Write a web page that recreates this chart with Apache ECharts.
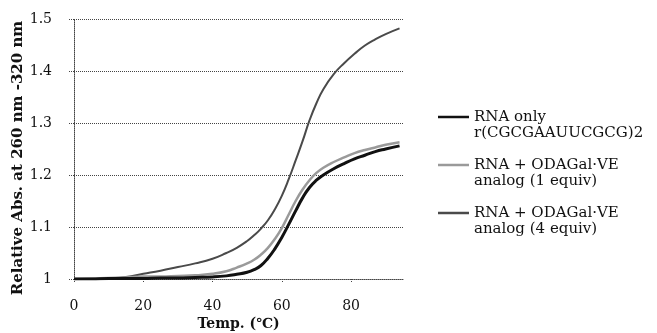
<!DOCTYPE html>
<html>
<head>
<meta charset="utf-8">
<script src="https://cdn.jsdelivr.net/npm/echarts@6/dist/echarts.min.js"></script>
<style>
  html, body { margin: 0; padding: 0; background: #fff; }
  #chart { width: 657px; height: 333px; }
</style>
</head>
<body>
<div id="chart"></div>
<script>
const temps = [0, 5, 10, 15, 20, 25, 30, 35, 40, 44, 47, 50, 52, 54, 56, 58, 60, 62, 64, 66, 68, 70, 72, 75, 78, 81, 84, 87, 90, 94];
const rnaOnly = [1.000, 1.000, 1.001, 1.001, 1.001, 1.002, 1.002, 1.003, 1.004, 1.006, 1.009, 1.013, 1.018, 1.026, 1.040, 1.058, 1.080, 1.105, 1.131, 1.156, 1.176, 1.190, 1.200, 1.212, 1.222, 1.231, 1.238, 1.245, 1.250, 1.256];
const equiv1 = [1.000, 1.001, 1.002, 1.003, 1.005, 1.005, 1.006, 1.007, 1.010, 1.015, 1.022, 1.030, 1.037, 1.047, 1.060, 1.077, 1.098, 1.124, 1.150, 1.172, 1.190, 1.204, 1.214, 1.225, 1.234, 1.242, 1.248, 1.253, 1.258, 1.263];
const equiv4 = [1.000, 1.000, 1.001, 1.004, 1.010, 1.016, 1.023, 1.030, 1.039, 1.050, 1.060, 1.073, 1.084, 1.097, 1.113, 1.134, 1.160, 1.192, 1.228, 1.265, 1.305, 1.338, 1.365, 1.394, 1.415, 1.433, 1.449, 1.461, 1.471, 1.482];
const seriesNames = ['RNA only\nr(CGCGAAUUCGCG)2', 'RNA + ODAGal·VE\nanalog (1 equiv)', 'RNA + ODAGal·VE\nanalog (4 equiv)'];
const yTicks = [1, 1.1, 1.2, 1.3, 1.4, 1.5];

const font = 'DejaVu Serif';
const pair = (vals) => temps.map((t, i) => [t, vals[i]]);

const chart = echarts.init(document.getElementById('chart'));
chart.setOption({
  animation: false,
  grid: { left: 74, right: 254, top: 19, bottom: 54, outerBoundsMode: 'none' },
  legend: {
    orient: 'vertical',
    left: 438,
    top: 93,
    icon: 'rect',
    itemWidth: 31,
    itemHeight: 2.5,
    itemGap: 0,
    padding: 0,
    // leading blank line keeps the stroke level with the first text line
    formatter: (name) => '\n' + name,
    textStyle: { fontFamily: font, fontSize: 15, color: '#111', lineHeight: 16 },
    data: seriesNames
  },
  xAxis: {
    type: 'value',
    min: 0, max: 95, interval: 20,
    name: 'Temp. (℃)',
    nameLocation: 'middle',
    nameMoveOverlap: false,
    nameGap: 38,
    nameTextStyle: { fontFamily: font, fontSize: 14, fontWeight: 'bold', color: '#111' },
    axisLine: { show: true, lineStyle: { color: '#444', type: 'dotted', width: 1 } },
    axisTick: { show: true, length: 4, lineStyle: { color: '#444', type: 'dotted' } },
    axisLabel: { fontFamily: font, fontSize: 14, color: '#111', margin: 20, showMaxLabel: false },
    splitLine: { show: false }
  },
  yAxis: {
    type: 'value',
    min: 1, max: 1.5, interval: 0.1,
    name: 'Relative Abs. at 260 nm -320 nm',
    nameLocation: 'middle',
    nameMoveOverlap: false,
    nameGap: 48,
    nameTextStyle: { fontFamily: font, fontSize: 15, fontWeight: 'bold', color: '#111', padding: [0, 18, 0, 0] },
    axisLine: { show: true, lineStyle: { color: '#444', type: 'dotted', width: 1 } },
    axisTick: { show: true, length: 5, lineStyle: { color: '#444', type: 'dotted' } },
    axisLabel: {
      fontFamily: font, fontSize: 14, color: '#111', margin: 22,
      formatter: (v) => {
        const t = yTicks.find(k => Math.abs(k - v) < 1e-6);
        return t === undefined ? '' : String(t);
      }
    },
    splitLine: { show: true, lineStyle: { color: '#444', type: 'dotted', width: 1 } }
  },
  series: [
    {
      name: seriesNames[0], type: 'line', data: pair(rnaOnly), smooth: true,
      showSymbol: false, symbol: 'none', z: 4,
      lineStyle: { color: '#111', width: 3 }, itemStyle: { color: '#111' }
    },
    {
      name: seriesNames[1], type: 'line', data: pair(equiv1), smooth: true,
      showSymbol: false, symbol: 'none', z: 3,
      lineStyle: { color: '#9a9a9a', width: 2.5 }, itemStyle: { color: '#9a9a9a' }
    },
    {
      name: seriesNames[2], type: 'line', data: pair(equiv4), smooth: true,
      showSymbol: false, symbol: 'none', z: 2,
      lineStyle: { color: '#4a4a4a', width: 2 }, itemStyle: { color: '#4a4a4a' }
    }
  ]
});
</script>
</body>
</html>
